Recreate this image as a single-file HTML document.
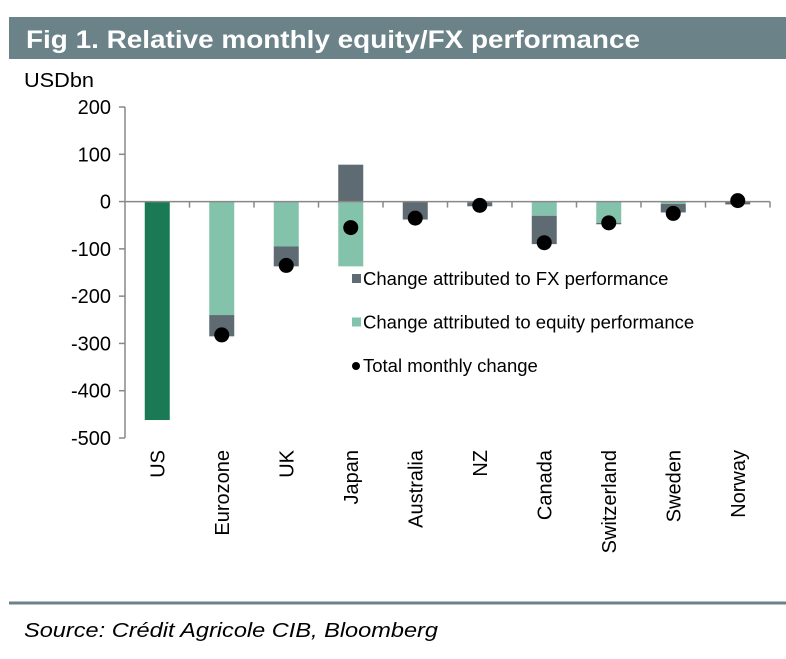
<!DOCTYPE html>
<html><head><meta charset="utf-8"><style>
body{margin:0;background:#fff;width:786px;height:654px;overflow:hidden;font-family:"Liberation Sans",Arial,sans-serif;}
</style></head><body>
<svg width="786" height="654" xmlns="http://www.w3.org/2000/svg">
<rect x="9" y="17" width="777" height="42" fill="#6a8288"/>
<text x="26" y="48" fill="#fff" font-size="25" font-weight="bold" textLength="614" lengthAdjust="spacingAndGlyphs">Fig 1. Relative monthly equity/FX performance</text>
<text x="24" y="87" font-size="20" fill="#000" textLength="70" lengthAdjust="spacingAndGlyphs">USDbn</text>
<g id="plot"></g>
<line x1="9" y1="603" x2="786" y2="603" stroke="#6a8288" stroke-width="3"/>
<text x="24" y="637" font-size="20" font-style="italic" fill="#000" textLength="414" lengthAdjust="spacingAndGlyphs">Source: Crédit Agricole CIB, Bloomberg</text>
</svg>
<script>
const categories=["US","Eurozone","UK","Japan","Australia","NZ","Canada","Switzerland","Sweden","Norway"];
const equity=[-462,-240,-95,-137,0,-2,-30,-45,-5,-1];
const fx=[0,-45,-42,78,-38,-8,-60,-3,-18,-5];
const total=[null,-282,-135,-55,-35,-8,-87,-45,-25,2];
const yTicks=[200,100,0,-100,-200,-300,-400,-500];
const NS="http://www.w3.org/2000/svg";
const g=document.getElementById('plot');
const x0=125,x1=770,yTop=107,yBot=438,vMax=200,vMin=-500;
const y=v=>yTop+(vMax-v)*(yBot-yTop)/(vMax-vMin);
const cw=(x1-x0)/categories.length;
const xc=i=>x0+cw*(i+0.5);
function mk(t,a){const e=document.createElementNS(NS,t);for(const k in a)e.setAttribute(k,a[k]);g.appendChild(e);return e;}
const ax=mk('line',{x1:x0,y1:yTop,x2:x0,y2:yBot,stroke:'#888','stroke-width':1.5});


yTicks.forEach(v=>{
 const t=mk('line',{x1:x0-6,y1:y(v),x2:x0,y2:y(v),stroke:'#888','stroke-width':1.5});
 
 
 const l=mk('text',{x:111,y:y(v)+7,'text-anchor':'end','font-size':20,fill:'#000'});
 l.textContent=v;
 
 
});
categories.forEach((c,i)=>{
 const bw=25,bx=xc(i)-bw/2;
 const eq=equity[i],f=fx[i];
 const ecol=i===0?'#1a7a56':'#84c3ab';
 if(eq!==0){const r=mk('rect',{x:bx,y:Math.min(y(0),y(eq)),width:bw,height:Math.abs(y(eq)-y(0)),fill:ecol});
  
  }
 if(f!==0){let base=(f<0&&eq<0)?eq:0;
  const r=mk('rect',{x:bx,y:Math.min(y(base),y(base+f)),width:bw,height:Math.abs(y(base+f)-y(base)),fill:'#5f6b72'});
  
  }
});
const xa=mk('line',{x1:x0,y1:y(0),x2:x1,y2:y(0),stroke:'#888','stroke-width':1.5});


categories.forEach((c,i)=>{
 const tx=x0+cw*(i+1);
 const t=mk('line',{x1:tx,y1:y(0),x2:tx,y2:y(0)+6,stroke:'#888','stroke-width':1.5});
 
 
 if(total[i]!==null){
 const d=mk('circle',{cx:xc(i),cy:y(total[i]),r:7.5,fill:'#000'});
 
 
 }
 const l=mk('text',{x:0,y:0,'text-anchor':'end','font-size':20,fill:'#000',transform:`translate(${xc(i)+7},450) rotate(-90)`});
 l.textContent=c;
 
 
});
const legend=[["Change attributed to FX performance",'#5f6b72','sq'],["Change attributed to equity performance",'#84c3ab','sq'],["Total monthly change",'#000','dot']];
legend.forEach((L,k)=>{
 const ly=279+k*43.5;
 const m=L[2]==='sq'?mk('rect',{x:352,y:ly-5,width:9,height:9,fill:L[1]}):mk('circle',{cx:356,cy:ly,r:4,fill:L[1]});
 
 
 const t=mk('text',{x:363,y:ly+6,'font-size':18.5,fill:'#000'});
 t.textContent=L[0];
 
 
});
</script>
</body></html>
